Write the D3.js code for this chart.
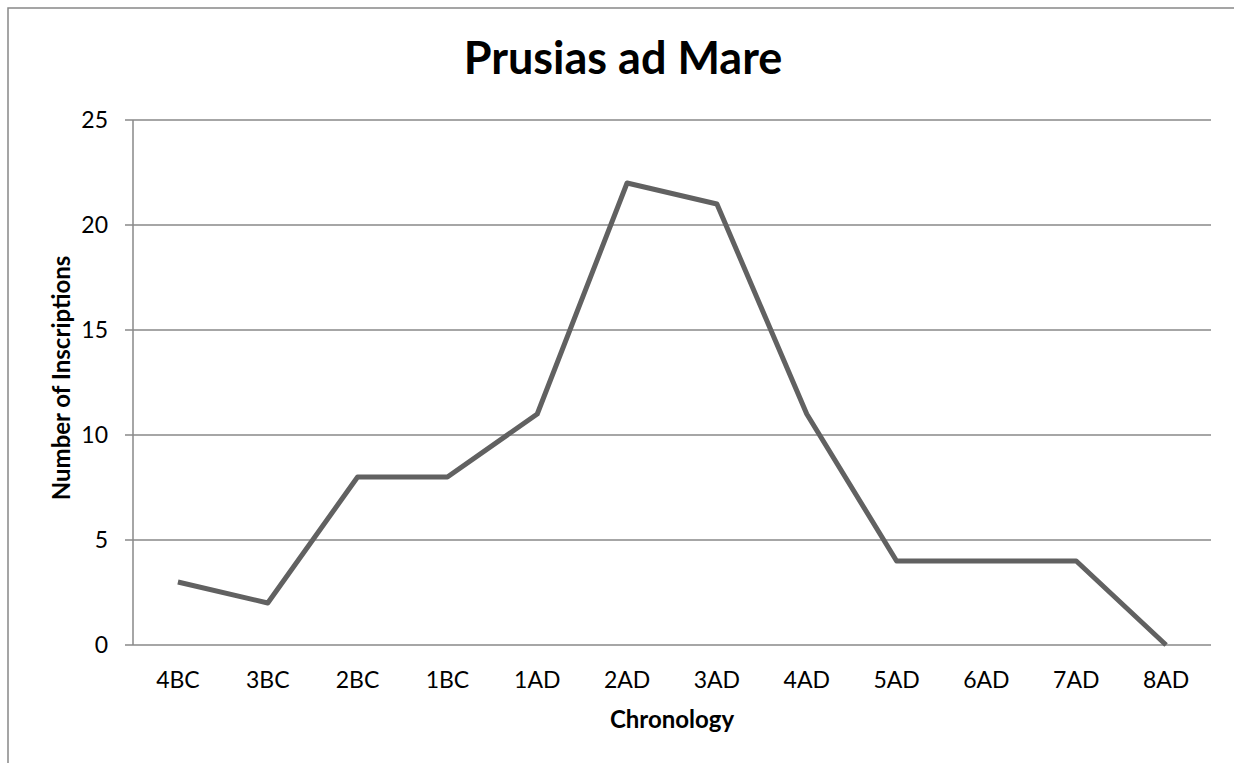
<!DOCTYPE html>
<html>
<head>
<meta charset="utf-8">
<script src="https://cdn.jsdelivr.net/npm/d3@7"></script>
<style>
  body { margin: 0; background: #fff; }
  text { font-family: Lato, "Open Sans", sans-serif; fill: #000; }
</style>
</head>
<body>
<div id="chart"></div>
<script>
const WIDTH = 1234;
const HEIGHT = 763;

const categories = ["4BC", "3BC", "2BC", "1BC", "1AD", "2AD", "3AD", "4AD", "5AD", "6AD", "7AD", "8AD"];
const counts = [3, 2, 8, 8, 11, 22, 21, 11, 4, 4, 4, 0];
const yTicks = [0, 5, 10, 15, 20, 25];

const plot = { left: 133, right: 1211, top: 120, bottom: 645 };

var svg = d3.select("#chart")
    .append("svg")
    .attr("width", WIDTH)
    .attr("height", HEIGHT);

// chart border (runs off the right and bottom edges)
svg.append("rect")
    .attr("x", 8)
    .attr("y", 8)
    .attr("width", 1240)
    .attr("height", 800)
    .attr("fill", "none")
    .attr("stroke", "#888")
    .attr("stroke-width", 1.5);

var x_scale = d3.scalePoint()
    .domain(categories)
    .range([plot.left, plot.right])
    .padding(0.5);

var y_scale = d3.scaleLinear()
    .domain([0, 25])
    .range([plot.bottom, plot.top]);

// gridlines
svg.append("g")
    .selectAll("line")
    .data(yTicks)
    .enter()
    .append("line")
    .attr("x1", plot.left - 8)
    .attr("x2", plot.right)
    .attr("y1", (d) => y_scale(d))
    .attr("y2", (d) => y_scale(d))
    .attr("stroke", "#888")
    .attr("stroke-width", 1.5);

// y axis line
svg.append("line")
    .attr("x1", plot.left)
    .attr("x2", plot.left)
    .attr("y1", plot.top)
    .attr("y2", plot.bottom)
    .attr("stroke", "#888")
    .attr("stroke-width", 1.5);

// y tick labels
svg.append("g")
    .selectAll("text")
    .data(yTicks)
    .enter()
    .append("text")
    .attr("x", 108)
    .attr("y", (d) => y_scale(d) + 8)
    .attr("text-anchor", "end")
    .style("font-size", "23px")
    .text((d) => d);

// x tick labels
svg.append("g")
    .selectAll("text")
    .data(categories)
    .enter()
    .append("text")
    .attr("x", (d) => x_scale(d))
    .attr("y", 688)
    .attr("text-anchor", "middle")
    .style("font-size", "23px")
    .text((d) => d);

// the line
var line = d3.line()
    .x((d, i) => x_scale(categories[i]))
    .y((d) => y_scale(d));

svg.append("path")
    .datum(counts)
    .attr("d", line)
    .attr("fill", "none")
    .attr("stroke", "#616161")
    .attr("stroke-width", 5)
    .attr("stroke-linejoin", "round");

// title
svg.append("text")
    .attr("x", 623)
    .attr("y", 74)
    .attr("text-anchor", "middle")
    .style("font-size", "45px")
    .style("font-weight", "bold")
    .text("Prusias ad Mare");

// axis titles
svg.append("text")
    .attr("x", (plot.left + plot.right) / 2)
    .attr("y", 728)
    .attr("text-anchor", "middle")
    .style("font-size", "24px")
    .style("font-weight", "bold")
    .text("Chronology");

svg.append("text")
    .attr("transform", "translate(70,378) rotate(-90)")
    .attr("text-anchor", "middle")
    .style("font-size", "24px")
    .style("font-weight", "bold")
    .text("Number of Inscriptions");
</script>
</body>
</html>
